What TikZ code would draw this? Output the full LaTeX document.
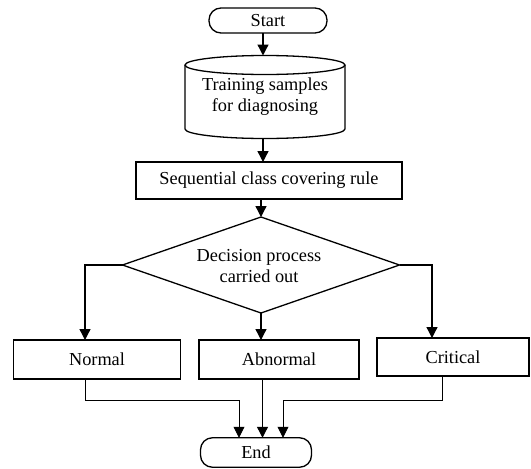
\documentclass[tikz,border=0pt]{standalone}
\usepackage{fontspec}
\setmainfont{Liberation Serif}
\usetikzlibrary{arrows.meta,shapes.geometric,calc}
\begin{document}
\begin{tikzpicture}[x=1pt,y=-1pt,
  every node/.style={font=\fontsize{18.3}{21}\selectfont, inner sep=0pt, outer sep=0pt, align=center},
  box/.style={draw, rectangle, line width=1.3pt},
  term/.style={draw, rectangle, rounded corners=12pt, line width=1.3pt},
  arr/.style={line width=1.3pt, -{Triangle[length=11pt,width=11pt]}},
  thinarr/.style={line width=0.9pt, -{Triangle[length=11pt,width=11pt]}},
  ln/.style={line width=1.3pt}]
\useasboundingbox (0,0) rectangle (531,469);
\coordinate (axis) at (263,0);
\node[term, minimum width=118pt, minimum height=25pt] (start) at (268,20.5) {Start};
\node[minimum width=160pt, minimum height=64pt] (cyl) at (265,97) {Training samples\\for diagnosing};
\node[minimum width=160pt, minimum height=83pt] (cylb) at (265,97) {};
\draw[ln] (cyl.north) ellipse [x radius=80pt, y radius=9.5pt];
\draw[ln] (cyl.north west) -- (cyl.south west) arc[start angle=180, end angle=360, x radius=80pt, y radius=9.5pt] -- (cyl.north east);
\node[box, minimum width=266pt, minimum height=37pt] (rule) at (269,180.5) {Sequential class covering rule};
\node[draw, diamond, aspect=2.9, line width=1.3pt, minimum width=277pt, minimum height=96pt] (dec) at (261,265) {};
\node at (259,266.5) {Decision process\\carried out};
\node[box, minimum width=167.5pt, minimum height=39pt] (normal) at (97,359.5) {Normal};
\node[box, minimum width=160pt, minimum height=39pt] (abn) at (279,359.5) {Abnormal};
\node[box, minimum width=152pt, minimum height=38pt] (crit) at (453,357) {Critical};
\node[term, minimum width=111pt, minimum height=29.5pt] (end) at (256,452.5) {End};
\draw[arr] (start.south -| axis) -- (cylb.north -| axis);
\draw[arr] (cylb.south -| axis) -- (rule.north -| axis);
\draw[arr] (rule.south -| dec.north) -- (dec.north);
\draw[arr] (dec.west) -| ($(normal.north)+(-12,0)$);
\draw[arr] (dec.east) -| ($(crit.north)+(-21,0)$);
\draw[arr] (dec.south) -- (dec.south |- abn.north);
\draw[thinarr] ($(normal.south)+(-12,0)$) -- ++(0,21.5) -| ($(end.north)+(-17,0)$);
\draw[arr] ($(abn.south)+(-16.5,0)$) -- ($(end.north)+(6.5,0)$);
\draw[thinarr] ($(crit.south)+(-11,0)$) -- ++(0,24) -| ($(end.north)+(27,0)$);
\end{tikzpicture}
\end{document}
